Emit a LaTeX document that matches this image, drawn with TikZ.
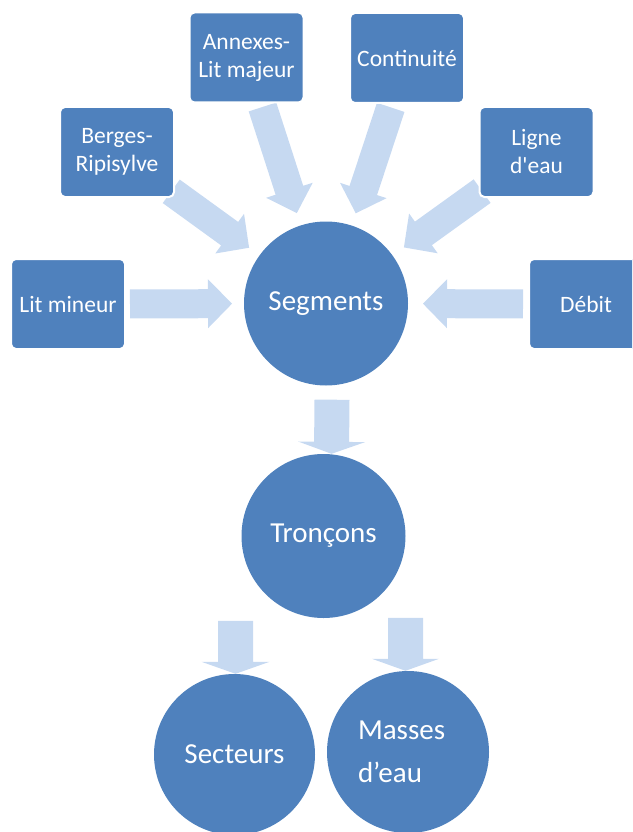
\documentclass[tikz,border=0pt]{standalone}
\usepackage{fontspec}
\newfontfamily\smartfont{Carlito}
\usetikzlibrary{calc,backgrounds}
\definecolor{boxblue}{HTML}{4F81BD}
\definecolor{flowblue}{HTML}{C6D9F1}
\tikzset{
  box/.style={rectangle, rounded corners=5pt, fill=boxblue, draw=white, line width=2pt,
    minimum width=114pt, minimum height=90pt, inner sep=0pt, align=center,
    text=white, font=\smartfont\fontsize{23.5}{28}\selectfont},
  disc/.style={circle, fill=boxblue, minimum size=164pt, inner sep=0pt, align=center,
    text=white, font=\smartfont\fontsize{29}{43}\selectfont},
  flow/.style={fill=flowblue}
}
\newcommand{\bigarrow}[5]{%
  \coordinate (ta) at #1;
  \coordinate (tb) at #2;
  \coordinate (hb) at ($(tb)!#5!(ta)$);
  \fill[flow] ($(ta)!#3!90:(tb)$) -- ($(hb)!#3!-90:(ta)$) -- ($(hb)!#4!-90:(ta)$)
    -- (tb) -- ($(hb)!#4!90:(ta)$) -- ($(hb)!#3!90:(ta)$) -- ($(ta)!#3!-90:(tb)$) -- cycle;
}
\begin{document}
\begin{tikzpicture}[x=1pt, y=-1pt]
      \useasboundingbox (0,0) rectangle (632,832);
      \clip (0,0) rectangle (632,832);
      \path
        (326,303.5) node[disc] (segments) {Segments}
        (323.5,536) node[disc] (troncons) {Tronçons}
        (234.5,754.5) node[disc, minimum size=161pt] (secteurs) {Secteurs}
        (408,752) node[disc, minimum size=162pt, align=left, text width=100pt] (masses) {Masses\\d’eau}
        (68,304) node[box] (litmineur) {Lit mineur}
        (117,152) node[box] (berges) {Berges-\\Ripisylve}
        (246.5,57.5) node[box] (annexes) {Annexes-\\Lit majeur}
        (407,58) node[box] (continuite) {Continuité}
        (536.5,152) node[box] (ligne) {Ligne\\d'eau}
        (586,304) node[box] (debit) {Débit};
      \begin{scope}[on background layer]
        \bigarrow{($(litmineur)!62pt!(segments)$)}{($(segments)!94pt!(litmineur)$)}{14.5pt}{24.5pt}{24pt}
        \bigarrow{($(berges)!67pt!(segments)$)}{($(segments)!95pt!(berges)$)}{14.5pt}{24.5pt}{24pt}
        \bigarrow{($(annexes)!52pt!(segments)$)}{($(segments)!95pt!(annexes)$)}{14.5pt}{24.5pt}{24pt}
        \bigarrow{($(continuite)!52pt!(segments)$)}{($(segments)!95pt!(continuite)$)}{14.5pt}{24.5pt}{24pt}
        \bigarrow{($(ligne)!67pt!(segments)$)}{($(segments)!96pt!(ligne)$)}{14.5pt}{24.5pt}{24pt}
        \bigarrow{($(debit)!63pt!(segments)$)}{($(segments)!97pt!(debit)$)}{14.5pt}{24.5pt}{24pt}
        \bigarrow{($(segments.south)+(6,14)$)}{($(troncons.north)+(8,0)$)}{17.5pt}{33.5pt}{12pt}
        \bigarrow{($(secteurs.north)+(1,-53)$)}{($(secteurs.north)+(1,0)$)}{17.5pt}{34pt}{12pt}
        \bigarrow{($(masses.north)+(-2.5,-53)$)}{($(masses.north)+(-2.5,0)$)}{17.5pt}{33.5pt}{12pt}
      \end{scope}
    \end{tikzpicture}
\end{document}
